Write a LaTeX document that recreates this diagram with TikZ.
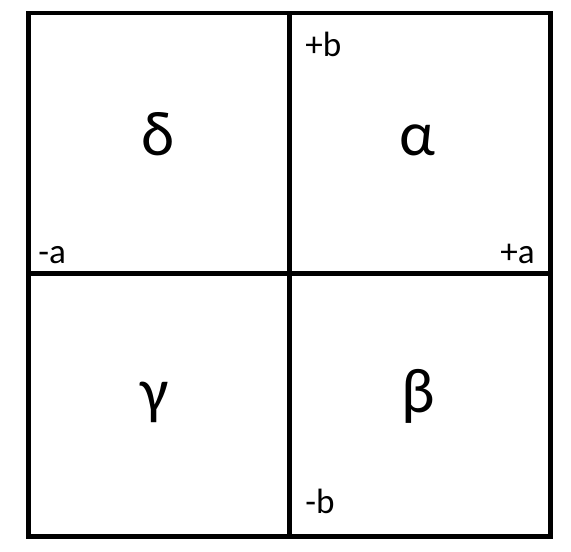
\documentclass[tikz,border=0pt]{standalone}
\usepackage{fontspec}
\setmainfont{Carlito}
\usepackage{tikz}
\usetikzlibrary{positioning}
\tikzset{
  frame/.style={draw=black,line width=0.1cm,line join=miter},
  greek/.style={anchor=base,inner sep=0pt,font=\fontsize{36}{40}\selectfont},
  sign/.style={anchor=base,inner sep=0pt,font=\fontsize{20}{24}\selectfont}
}

\begin{document}
\begin{tikzpicture}[x=0.02cm,y=-0.02cm]
        \useasboundingbox (0,0) rectangle (571,551);
        \coordinate (nw) at (28.5,13);
        \coordinate (se) at (550,536);
        \coordinate (mid) at (289.5,273.5);
        \draw[frame] (nw) rectangle (se);
        \draw[frame] (nw -| mid) -- (se -| mid);
        \draw[frame] (nw |- mid) -- (se |- mid);
        \node[greek] (delta) at (158,155) {δ};
        \node[greek] (alpha) at (417,155) {α};
        \node[greek] (gamma) at (155,412) {γ};
        \node[greek] (beta) at (418,412) {β};
        \node[sign,anchor=base west] (pb) at (305,56) {+b};
        \node[sign,anchor=base west] (ma) at (38,263) {-a};
        \node[sign,anchor=base east] (pa) at (535,263) {+a};
        \node[sign,anchor=base west] (mb) at (305,513) {-b};
      \end{tikzpicture}
\end{document}
